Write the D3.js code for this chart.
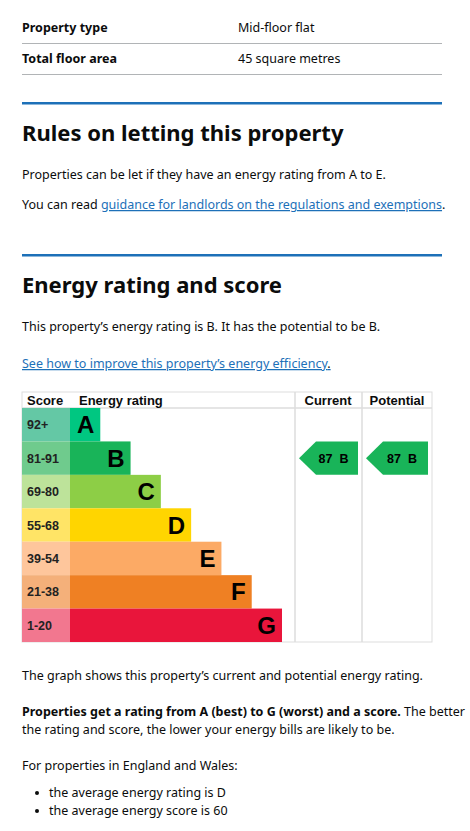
<!DOCTYPE html>
<html><head><meta charset="utf-8">
<script src="https://cdn.jsdelivr.net/npm/d3@7"></script>
<style>body{margin:0;background:#fff}svg{display:block}</style>
</head><body><div id="c"></div>
<script>
const bands = ["A","B","C","D","E","F","G"];
const scores = ["92+","81-91","69-80","55-68","39-54","21-38","1-20"];
const barColors = ["#00c781","#19b459","#8dce46","#ffd500","#fcaa65","#ef8023","#e9153b"];
const scoreColors = ["#64c8a5","#6fcb8d","#bde39a","#ffe466","#fec69c","#f4b07a","#f2778f"];
const barLength = [1,2,3,4,5,6,7];
const currentScore = 87, currentBand = "B";
const potentialScore = 87, potentialBand = "B";

(function(){
const W=470,H=831;
const svg=d3.select("#c").append("svg").attr("width",W).attr("height",H);
const F="Noto Sans, sans-serif", A="Liberation Sans, Arial, sans-serif";
function t(x,y,s,o={}){const e=svg.append("text").attr("x",x).attr("y",y).attr("font-family",o.f||F).attr("font-size",o.s||12.5).attr("font-weight",o.b?"bold":"normal").attr("fill",o.c||"#0b0c0c").text(s);if(o.u)e.attr("text-decoration","underline");if(o.a)e.attr("text-anchor",o.a);return e;}
function hl(y,c,w){svg.append("rect").attr("x",22).attr("y",y).attr("width",420).attr("height",w).attr("fill",c);}

t(22,32,"Property type",{b:1});t(238,32,"Mid-floor flat");hl(43,"#b1b4b6",1);
t(22,63,"Total floor area",{b:1});t(238,63,"45 square metres");hl(74,"#b1b4b6",1);
hl(102,"#1d70b8",2.5);
t(22,141,"Rules on letting this property",{b:1,s:22});
t(22,179,"Properties can be let if they have an energy rating from A to E.");
const p=t(22,209,"You can read ");p.append("tspan").attr("fill","#1d70b8").attr("text-decoration","underline").text("guidance for landlords on the regulations and exemptions");p.append("tspan").text(".");
hl(254,"#1d70b8",2.5);
t(22,293,"Energy rating and score",{b:1,s:22});
t(22,331,"This property\u2019s energy rating is B. It has the potential to be B.");
t(22,368,"See how to improve this property\u2019s energy efficiency",{c:"#1d70b8",u:1}).append("tspan").attr("fill","#0b0c0c").attr("text-decoration","none").text(".");

const cTop=408,cBottom=642,left=22,right=432,scoreW=48,curX=295,potX=362;
const y=d3.scaleBand().domain(bands).range([cTop,cBottom]);
const x=d3.scaleLinear().domain([0,7]).range([left+scoreW,282]);
const g=svg.append("g");
g.append("rect").attr("x",left).attr("y",392).attr("width",right-left).attr("height",cBottom-392).attr("fill","none").attr("stroke","#ddd");
[curX,potX].forEach(v=>g.append("line").attr("x1",v).attr("x2",v).attr("y1",392).attr("y2",cBottom).attr("stroke","#ddd").attr("stroke-width",1.5));
g.append("line").attr("x1",left).attr("x2",right).attr("y1",cTop).attr("y2",cTop).attr("stroke","#ddd").attr("stroke-width",1.5);
const hf={f:A,b:1,s:13};
t(27,405,"Score",hf);t(79,405,"Energy rating",hf);t(328,405,"Current",{...hf,a:"middle"});t(397,405,"Potential",{...hf,a:"middle"});
bands.forEach((b,i)=>{
  g.append("rect").attr("x",left).attr("y",y(b)).attr("width",scoreW).attr("height",y.bandwidth()).attr("fill",scoreColors[i]);
  g.append("rect").attr("x",x(0)).attr("y",y(b)).attr("width",x(barLength[i])-x(0)).attr("height",y.bandwidth()).attr("fill",barColors[i]);
  t(27,y(b)+y.bandwidth()/2+4.5,scores[i],{f:A,b:1,s:12.5,c:"#222"});
  t(x(barLength[i])-6,y(b)+y.bandwidth()/2+8.5,b,{f:A,b:1,s:24,a:"end",c:"#000"});
});
function arrow(x0,x1,band,score){
  const yy=y(band),h=y.bandwidth(),col=barColors[bands.indexOf(band)];
  g.append("path").attr("d",`M${x0},${yy+h/2}L${x0+17},${yy}L${x1},${yy}L${x1},${yy+h}L${x0+17},${yy+h}Z`).attr("fill",col);
  t((x0+x1)/2+5,yy+h/2+4.5,score+"\u00a0\u00a0"+band,{f:A,b:1,s:12.5,a:"middle",c:"#000"});
}
arrow(299,358,currentBand,currentScore);
arrow(366,428,potentialBand,potentialScore);

t(22,680,"The graph shows this property\u2019s current and potential energy rating.");
const q=t(22,716,"Properties get a rating from A (best) to G (worst) and a score.",{b:1});q.append("tspan").attr("font-weight","normal").text(" The better");
t(22,734,"the rating and score, the lower your energy bills are likely to be.");
t(22,770,"For properties in England and Wales:");
svg.append("circle").attr("cx",37).attr("cy",793).attr("r",2).attr("fill","#0b0c0c");
t(49,797,"the average energy rating is D");
svg.append("circle").attr("cx",37).attr("cy",811).attr("r",2).attr("fill","#0b0c0c");
t(49,815,"the average energy score is 60");
})();
</script></body></html>
